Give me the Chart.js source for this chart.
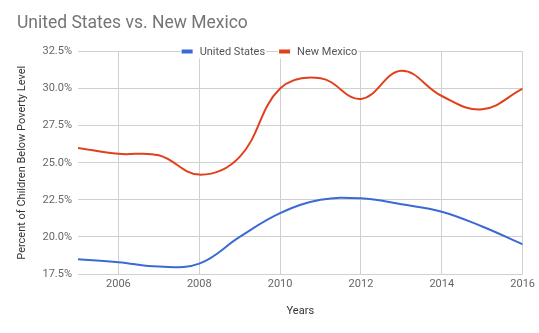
<!DOCTYPE html>
<html>
<head>
<meta charset="utf-8">
<script src="https://cdn.jsdelivr.net/npm/chart.js@4/dist/chart.umd.min.js"></script>
<style>
  html, body { margin: 0; padding: 0; background: #fff; }
  #wrap { width: 539px; height: 333px; }
</style>
</head>
<body>
<div id="wrap"><canvas id="povertyChart" width="539" height="333"></canvas></div>
<script>
const years = [2005, 2006, 2007, 2008, 2009, 2010, 2011, 2012, 2013, 2014, 2015, 2016];
const usValues = [18.5, 18.3, 18.0, 18.2, 20.0, 21.6, 22.5, 22.6, 22.2, 21.7, 20.7, 19.5];
const nmValues = [26.0, 25.6, 25.5, 24.2, 25.4, 30.0, 30.7, 29.3, 31.2, 29.5, 28.6, 30.0];
const yearTicks = [2006, 2008, 2010, 2012, 2014, 2016];

const FONT = 'Roboto, "Noto Sans", Arial, sans-serif';

// legend sits on top of the first grid line, like the google sheets one
const topLegend = {
    id: 'topLegend',
    afterDraw(chart) {
        const ctx = chart.ctx;
        const y = chart.chartArea.top;
        ctx.save();
        ctx.font = '11px ' + FONT;
        const items = chart.data.datasets.map(ds => ({
            label: ds.label,
            color: ds.borderColor,
            w: 11 + 7 + ctx.measureText(ds.label).width
        }));
        const gap = 14;
        const total = items.reduce((s, it) => s + it.w, 0) + gap * (items.length - 1);
        let x = chart.width / 2 - total / 2;
        items.forEach(it => {
            ctx.fillStyle = '#fff';
            ctx.fillRect(x - 1, y - 7, it.w + 2, 14);
            ctx.fillStyle = it.color;
            ctx.fillRect(x, y - 2, 11, 4);
            ctx.fillStyle = '#555';
            ctx.textBaseline = 'middle';
            ctx.textAlign = 'left';
            ctx.fillText(it.label, x + 18, y + 0.5);
            x += it.w + gap;
        });
        ctx.restore();
    }
};

new Chart(document.getElementById('povertyChart').getContext('2d'), {
    type: 'line',
    data: {
        datasets: [
            {
                label: 'United States',
                data: years.map((yr, i) => ({x: yr, y: usValues[i]})),
                borderColor: '#3b6ad2',
                backgroundColor: '#3b6ad2',
                borderWidth: 2,
                pointRadius: 0,
                tension: 0.4,
                fill: false
            },
            {
                label: 'New Mexico',
                data: years.map((yr, i) => ({x: yr, y: nmValues[i]})),
                borderColor: '#e2401c',
                backgroundColor: '#e2401c',
                borderWidth: 2,
                pointRadius: 0,
                tension: 0.4,
                fill: false
            }
        ]
    },
    options: {
        responsive: false,
        animation: false,
        layout: { padding: { left: 17, right: 16, top: 0, bottom: 0 } },
        plugins: {
            legend: { display: false },
            tooltip: { enabled: false },
            title: {
                display: true,
                text: 'United States vs. New Mexico',
                align: 'start',
                color: '#757575',
                font: { family: FONT, size: 17.5, weight: 'normal' },
                padding: { top: 13, bottom: 17.5 }
            }
        },
        scales: {
            x: {
                type: 'linear',
                min: 2005,
                max: 2016,
                afterBuildTicks: scale => { scale.ticks = yearTicks.map(v => ({value: v})); },
                afterFit: scale => { scale.height = 59; },
                ticks: {
                    color: '#666',
                    font: { family: FONT, size: 11 },
                    padding: 4,
                    callback: v => String(v)
                },
                grid: { color: '#d0d0d0', drawTicks: false },
                border: { display: false },
                title: {
                    display: true,
                    text: 'Years',
                    color: '#333',
                    font: { family: FONT, size: 11 },
                    padding: { top: 0, bottom: 15.5 }
                }
            },
            y: {
                min: 17.5,
                max: 32.5,
                afterFit: scale => { scale.width = 61; },
                ticks: {
                    stepSize: 2.5,
                    color: '#666',
                    font: { family: FONT, size: 11 },
                    padding: 6,
                    callback: v => v.toFixed(1) + '%'
                },
                grid: { color: '#d0d0d0', drawTicks: false },
                border: { display: false },
                title: {
                    display: true,
                    text: 'Percent of Children Below Poverty Level',
                    color: '#333',
                    font: { family: FONT, size: 11 },
                    padding: { top: -1.5, bottom: 0 }
                }
            }
        }
    },
    plugins: [topLegend]
});
</script>
</body>
</html>
